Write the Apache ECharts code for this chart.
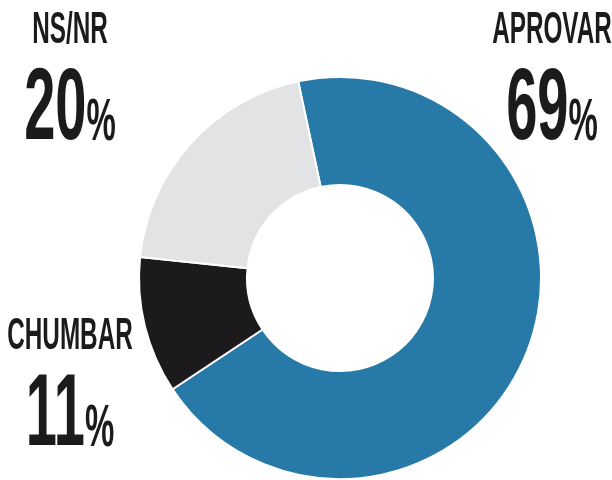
<!DOCTYPE html>
<html>
<head>
<meta charset="utf-8">
<style>html,body{margin:0;padding:0;background:#fff;}#c{width:612px;height:480px;}</style>
<script src="https://cdn.jsdelivr.net/npm/echarts@6/dist/echarts.min.js"></script>
</head>
<body>
<div id="c"></div>
<script>
var categories = ['APROVAR', 'CHUMBAR', 'NS/NR'];
var values = [69, 11, 20];
var colors = ['#2779a7', '#1c1a1d', '#e2e3e5'];

var chart = echarts.init(document.getElementById('c'), null, {renderer: 'canvas'});
var FONT = '"Liberation Sans", Arial, sans-serif';
var labelPos = [
  {x: 552, y: 8},
  {x: 70, y: 314},
  {x: 70, y: 8}
];
var graphics = [];
categories.forEach(function (name, i) {
  var p = labelPos[i];
  graphics.push({
    type: 'text', x: p.x, y: p.y, scaleX: 0.54,
    style: {
      text: name, fill: '#1b1b1b', font: 'bold 45px ' + FONT,
      textAlign: 'center', textVerticalAlign: 'top'
    }
  });
  graphics.push({
    type: 'text', x: p.x, y: p.y + 50, scaleX: 0.55,
    style: {
      text: '{n|' + values[i] + '}{p|%}', fill: '#1b1b1b',
      textAlign: 'center', textVerticalAlign: 'top',
      rich: {
        n: {fontFamily: FONT, fontWeight: 'bold', fontSize: 102, fill: '#1b1b1b', lineHeight: 104, verticalAlign: 'bottom'},
        p: {fontFamily: FONT, fontWeight: 'bold', fontSize: 60, fill: '#1b1b1b', verticalAlign: 'bottom', padding: [0, 0, 9, 0]}
      }
    }
  });
});

chart.setOption({
  animation: false,
  graphic: graphics,
  series: [{
    type: 'pie',
    center: [340, 278],
    radius: [93, 201],
    startAngle: 102,
    clockwise: true,
    label: {show: false},
    labelLine: {show: false},
    itemStyle: {borderColor: '#ffffff', borderWidth: 2},
    data: categories.map(function (c, i) {
      return {name: c, value: values[i], itemStyle: {color: colors[i]}};
    })
  }]
});
</script>
</body>
</html>
